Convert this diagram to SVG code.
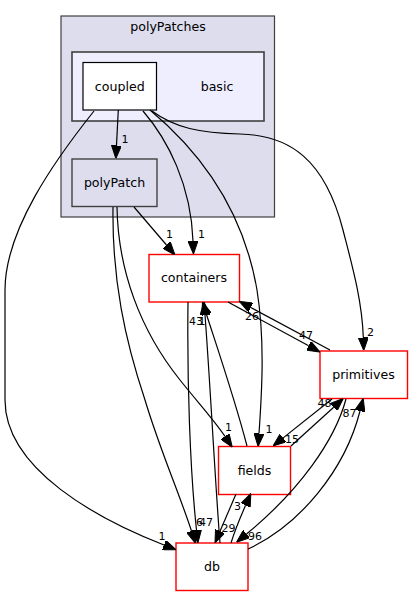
<svg xmlns="http://www.w3.org/2000/svg" width="413" height="596" viewBox="0 0 413 596">
<style>
text{font-family:"DejaVu Sans","Liberation Sans",sans-serif;fill:#000}
.nt{font-size:12.6px;text-anchor:middle}
.el{font-size:11px}
.e{fill:none;stroke:#000;stroke-width:1.2}
.red{fill:#fff;stroke:#ff0000;stroke-width:1.4}
</style>
<defs>
<marker id="ah" markerUnits="userSpaceOnUse" viewBox="0 0 13 10" refX="0" refY="5" markerWidth="13" markerHeight="10" orient="auto">
<path d="M0,0 L13,5 L0,10 z" fill="#000" stroke="#000" stroke-width="1"/>
</marker>
</defs>
<g id="cluster_polyPatches">
<rect x="61" y="16" width="213.5" height="201" fill="#ddddee" stroke="#404040" stroke-width="1.2"/>
<text class="nt" x="168" y="31">polyPatches</text>
</g>
<g id="cluster_basic">
<rect x="72" y="52" width="192" height="69" fill="#eeeeff" stroke="#404040" stroke-width="1.6"/>
<text class="nt" x="217" y="90.5">basic</text>
</g>
<g id="node_coupled">
<rect x="83" y="62.5" width="73.5" height="47.5" fill="#fff" stroke="#000" stroke-width="1.2"/>
<text class="nt" x="119.8" y="90.5">coupled</text>
</g>
<g id="node_polyPatch">
<rect x="72" y="159" width="85" height="47.5" fill="#ddddee" stroke="#404040" stroke-width="1.4"/>
<text class="nt" x="114.5" y="186.5">polyPatch</text>
</g>
<g id="node_containers">
<rect class="red" x="149" y="254.5" width="90.5" height="47.5"/>
<text class="nt" x="194" y="282">containers</text>
</g>
<g id="node_primitives">
<rect class="red" x="320" y="351" width="87.5" height="47.5"/>
<text class="nt" x="363.5" y="378.5">primitives</text>
</g>
<g id="node_fields">
<rect class="red" x="218.5" y="446.5" width="72" height="48"/>
<text class="nt" x="254.5" y="474.5">fields</text>
</g>
<g id="node_db">
<rect class="red" x="176" y="543" width="72" height="47.5"/>
<text class="nt" x="212" y="570.5">db</text>
</g>
<g id="connectors">
<path class="e" marker-end="url(#ah)" d="M118.3,110 L116.5,145.5"/>
<text class="el" x="121.5" y="143">1</text>
<path class="e" marker-end="url(#ah)" d="M94,111 C55,160 5,230 5,290 L5,400 C5,470 100,520 164,545"/>
<text class="el" x="158.5" y="540">1</text>
<path class="e" marker-end="url(#ah)" d="M143,111 C168,140 191,185 193,241"/>
<text class="el" x="198" y="238">1</text>
<path class="e" marker-end="url(#ah)" d="M150,110 C210,160 245,220 257,290 C265,340 262,390 259,433.5"/>
<text class="el" x="265.5" y="433">1</text>
<path class="e" marker-end="url(#ah)" d="M152,111 C175,128 200,133 240,134 C290,135 325,160 343,230 C352,265 362,300 363.3,337.5"/>
<text class="el" x="367" y="336">2</text>
<path class="e" marker-end="url(#ah)" d="M134,207 L166.5,245"/>
<text class="el" x="166" y="238">1</text>
<path class="e" marker-end="url(#ah)" d="M113,207 C112,280 125,340 145,400 C160,450 178,490 191.5,531"/>
<text class="el" x="196" y="526">6</text>
<path class="e" marker-end="url(#ah)" d="M117,207 C118,270 140,330 180,380 C200,405 214,420 225,436.4"/>
<text class="el" x="225" y="431">1</text>
<path class="e" marker-end="url(#ah)" d="M188,302 C187,380 190,470 196.5,530"/>
<text class="el" x="199" y="526">47</text>
<path class="e" marker-end="url(#ah)" d="M220,543 C215,480 210,380 205,315"/>
<text class="el" x="189" y="325">43</text>
<path class="e" marker-end="url(#ah)" d="M247,446 C235,400 218,350 206.5,314.5"/>
<text class="el" x="198.5" y="325">1</text>
<path class="e" marker-end="url(#ah)" d="M228,302 L308.6,345.8"/>
<text class="el" x="299" y="339">47</text>
<path class="e" marker-end="url(#ah)" d="M330,350 L250.8,307.5"/>
<text class="el" x="245" y="320">26</text>
<path class="e" marker-end="url(#ah)" d="M291,446 L333.7,407.2"/>
<text class="el" x="317.5" y="406.5">48</text>
<path class="e" marker-end="url(#ah)" d="M332,399 L283.2,437.9"/>
<text class="el" x="285" y="443">15</text>
<path class="e" marker-end="url(#ah)" d="M231,543 C235,530 240,518 245.6,505.3"/>
<text class="el" x="234" y="510">3</text>
<path class="e" marker-end="url(#ah)" d="M236,494 L220.1,531.1"/>
<text class="el" x="221.5" y="532">29</text>
<path class="e" marker-end="url(#ah)" d="M346,399 C335,440 300,490 246.5,534"/>
<text class="el" x="248" y="540">96</text>
<path class="e" marker-end="url(#ah)" d="M248,549 C300,525 345,470 360,411"/>
<text class="el" x="342.5" y="416.5">87</text>
</g>
</svg>
